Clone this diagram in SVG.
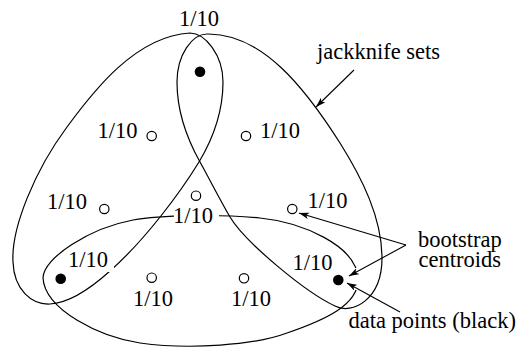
<svg xmlns="http://www.w3.org/2000/svg" width="520" height="349" viewBox="0 0 520 349">
<defs>
<marker id="ah" markerUnits="userSpaceOnUse" markerWidth="10" markerHeight="7" refX="10" refY="3.3" orient="auto">
<path d="M0,0 L10,3.3 L0,6.6 L2.5,3.3 Z" fill="#000"/>
</marker>
</defs>
<style>
.loop{fill:none;stroke:#000;stroke-width:1.2}
.bg{fill:#fff;stroke:none}
.open{fill:#fff;stroke:#000;stroke-width:1.2}
.data{fill:#000}
text{font-family:"Liberation Serif","Times New Roman",serif;font-size:22.5px;fill:#000}
.arrow{fill:none;stroke:#000;stroke-width:1.1;marker-end:url(#ah)}
</style>
<g id="jackknife-set-1">
<path class="loop" d="M190,33 C205,33 223,55 223,82 C223,110 214,137 199,162 C180,193 145,240 110,271 C90,289 70,303 50,304 C32,305 14,290 13,262 C11,228 35,170 67,127 C92,93 135,36 190,33 Z"/>
</g>
<g id="jackknife-set-2">
<path class="loop" d="M207,34 C192,34 177,55 177,82 C177,110 186,137 200,162 C210,180 220,200 230,217 C245,242 305,292 335,306 C352,315 382,300 382,258 C382,218 362,178 340,143 C305,88 262,33 207,34 Z"/>
</g>
<g id="jackknife-set-3">
<path class="loop" d="M43,278 C43,258 90,228 133,220 C160,215 220,214 260,218 C300,222 358,245 358,280 C358,305 325,320 287,333 C255,345 190,350 140,343 C100,337 45,310 43,278 Z"/>
</g>
<g id="label-gaps">
<rect class="bg" x="174" y="207" width="45" height="19"/>
<rect class="bg" x="70" y="252" width="44" height="20"/>
<rect class="bg" x="355" y="268" width="7" height="22"/>
</g>
<g id="data-points">
<circle class="data" cx="200" cy="71.7" r="5.3"/>
<circle class="data" cx="60.7" cy="278.7" r="5.3"/>
<circle class="data" cx="338.3" cy="280" r="5.3"/>
</g>
<g id="bootstrap-centroids">
<circle class="open" cx="151.7" cy="136" r="4.7"/>
<circle class="open" cx="246" cy="136" r="4.7"/>
<circle class="open" cx="196" cy="195.7" r="4.7"/>
<circle class="open" cx="104.3" cy="209" r="4.7"/>
<circle class="open" cx="292.3" cy="209" r="4.7"/>
<circle class="open" cx="151.7" cy="277.7" r="4.7"/>
<circle class="open" cx="244" cy="278.3" r="4.7"/>
</g>
<g id="weights">
<text x="179" y="26">1/10</text>
<text x="97.5" y="138.3">1/10</text>
<text x="260" y="138.3">1/10</text>
<text x="47" y="209.3">1/10</text>
<text x="307.5" y="208.3">1/10</text>
<text x="173" y="223.3">1/10</text>
<text x="68" y="266.7">1/10</text>
<text x="133" y="306">1/10</text>
<text x="231" y="306">1/10</text>
<text x="292.5" y="270">1/10</text>
</g>
<g id="annotations">
<text x="317" y="59.3">jackknife sets</text>
<text x="418" y="246.7">bootstrap</text>
<text x="418.5" y="266.7">centroids</text>
<text x="348.5" y="328.3">data points (black)</text>
</g>
<g id="connectors">
<line class="arrow" x1="354" y1="70" x2="316" y2="107"/>
<line class="arrow" x1="406" y1="245" x2="299" y2="213"/>
<line class="arrow" x1="406" y1="245" x2="349" y2="276"/>
<line class="arrow" x1="400" y1="312" x2="347" y2="283"/>
</g>
</svg>
